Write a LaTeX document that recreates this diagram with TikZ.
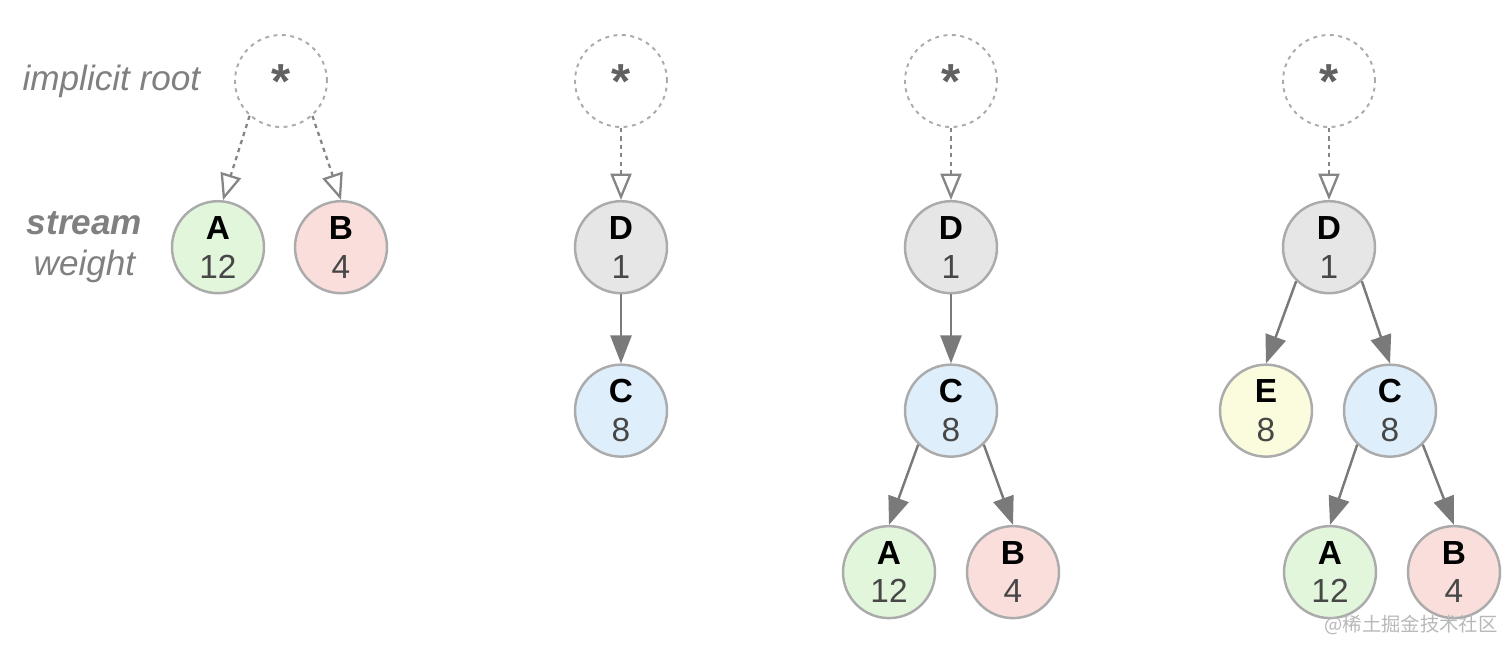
\documentclass[tikz,border=0pt]{standalone}
\usepackage{fontspec}
\setmainfont{Liberation Sans}
\newfontfamily\cjkfont{Noto Sans CJK SC}
\usetikzlibrary{arrows.meta,positioning}
\definecolor{fillA}{HTML}{E2F6DC}
\definecolor{fillB}{HTML}{FADEDC}
\definecolor{fillC}{HTML}{DEEEFA}
\definecolor{fillD}{HTML}{E6E6E6}
\definecolor{fillE}{HTML}{FBFBDD}

\begin{document}
\begin{tikzpicture}[
  node distance=1.38cm and 0.64cm,
  stream/.style={circle,draw=black!33,line width=1.4pt,minimum size=1.84cm,inner sep=0pt,align=center,text=black!72,font=\fontsize{19}{22}\selectfont},
  streamA/.style={stream,fill=fillA}, streamB/.style={stream,fill=fillB}, streamC/.style={stream,fill=fillC},
  streamD/.style={stream,fill=fillD}, streamE/.style={stream,fill=fillE},
  root/.style={circle,draw=black!33,line width=1.1pt,dash pattern=on 2.2pt off 2.6pt,minimum size=1.84cm,inner sep=0pt,text=black!62,text height=20pt,text depth=0pt,font=\fontsize{28}{28}\selectfont\bfseries},
  dep/.style={-{Triangle[length=16pt,width=12pt]},draw=black!52,line width=1.4pt},
  implicit/.style={-{Triangle[open,length=15pt,width=12pt]},draw=black!48,line width=1.3pt,dash pattern=on 2.4pt off 2.4pt},
  caption/.style={text=black!50,align=center,font=\fontsize{20}{23}\selectfont\itshape}
]
  \useasboundingbox (0,0) rectangle (30.24,-13.02);
  \node[root] (root1) at (5.62,-1.62) {*};
  \node[streamA, below=1.44cm of root1, xshift=-1.26cm] (a1) {\textbf{\textcolor{black}{A}}\\12};
  \node[streamB, below=1.44cm of root1, xshift=1.2cm] (b1) {\textbf{\textcolor{black}{B}}\\4};
  \node[caption, left=0.55cm of root1] (rootlabel) {implicit root};
  \node[caption, left=0.45cm of a1] (streamlabel) {\textbf{stream}\\weight};
  \draw[implicit] (root1.-132) -- (a1.84);
  \draw[implicit] (root1.-48) -- (b1.north);

  \node[root] (root2) at (12.42,-1.62) {*};
  \node[streamD, below=1.44cm of root2] (d2) {\textbf{\textcolor{black}{D}}\\1};
  \node[streamC, below=of d2] (c2) {\textbf{\textcolor{black}{C}}\\8};
  \draw[implicit] (root2) -- (d2);
  \draw[dep] (d2) -- (c2);

  \node[root] (root3) at (19.02,-1.62) {*};
  \node[streamD, below=1.44cm of root3] (d3) {\textbf{\textcolor{black}{D}}\\1};
  \node[streamC, below=of d3] (c3) {\textbf{\textcolor{black}{C}}\\8};
  \node[streamA, below=1.34cm of c3, xshift=-1.24cm] (a3) {\textbf{\textcolor{black}{A}}\\12};
  \node[streamB, below=1.34cm of c3, xshift=1.24cm] (b3) {\textbf{\textcolor{black}{B}}\\4};
  \draw[implicit] (root3) -- (d3);
  \draw[dep] (d3) -- (c3);
  \draw[dep] (c3.-134) -- (a3.north);
  \draw[dep] (c3.-46) -- (b3.north);

  \node[root] (root4) at (26.58,-1.62) {*};
  \node[streamD, below=1.44cm of root4] (d4) {\textbf{\textcolor{black}{D}}\\1};
  \node[streamE, below=of d4, xshift=-1.26cm] (e4) {\textbf{\textcolor{black}{E}}\\8};
  \node[streamC, below=of d4, xshift=1.22cm] (c4) {\textbf{\textcolor{black}{C}}\\8};
  \node[streamA, below=1.34cm of c4, xshift=-1.2cm] (a4) {\textbf{\textcolor{black}{A}}\\12};
  \node[streamB, below=1.34cm of c4, xshift=1.28cm] (b4) {\textbf{\textcolor{black}{B}}\\4};
  \draw[implicit] (root4) -- (d4);
  \draw[dep] (d4.-134) -- (e4.north);
  \draw[dep] (d4.-46) -- (c4.north);
  \draw[dep] (c4.-134) -- (a4.north);
  \draw[dep] (c4.-46) -- (b4.north);

  \node[text=black!28, font=\cjkfont\fontsize{11}{11}\selectfont] (mark) at (28.22,-12.5) {@稀土掘金技术社区};
\end{tikzpicture}
\end{document}
